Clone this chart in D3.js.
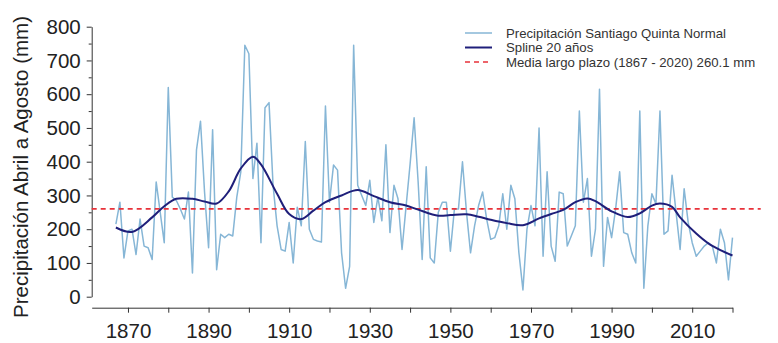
<!DOCTYPE html>
<html>
<head>
<meta charset="utf-8">
<script src="https://cdn.jsdelivr.net/npm/d3@7"></script>
<style>
  html, body { margin: 0; padding: 0; background: #fff; }
  svg { display: block; font-family: "Liberation Sans", Arial, Helvetica, sans-serif; }
</style>
</head>
<body>
<svg id="chart" width="778" height="343"></svg>
<script>
// Precipitación abril–agosto, Santiago Quinta Normal (mm), 1867–2020
const firstYear = 1867;
const precip = [
  215, 280, 115, 195, 200, 125, 230, 150, 145, 110,   // 1867–1876
  340, 250, 160, 620, 295, 285, 260, 230, 310,  70,   // 1877–1886
  435, 520, 310, 145, 495,  80, 185, 175, 185, 180,   // 1887–1896
  295, 370, 745, 720, 350, 455, 160, 560, 575, 330,   // 1897–1906
  210, 140, 135, 220, 100, 265, 210, 460, 200, 170,   // 1907–1916
  165, 162, 565, 280, 390, 375, 130,  25,  90, 745,   // 1917–1926
  330, 300, 270, 345, 220, 295, 225, 450, 190, 330,   // 1927–1936
  290, 140, 267, 393, 530, 340, 110, 385, 115, 100,   // 1937–1946
  250, 280, 280, 135, 260, 260, 400, 250, 130, 210,   // 1947–1956
  270, 310, 230, 170, 175, 210, 305, 200, 330, 290,   // 1957–1966
  130,  20, 200, 270, 210, 500, 120, 370, 150, 105,   // 1967–1976
  310, 305, 150, 180, 210, 550, 280, 350, 120, 200,   // 1977–1986
  615,  90, 235, 175, 260, 370, 190, 185, 130, 100,   // 1987–1996
  550,  25, 210, 305, 275, 550, 185, 195, 360, 250,   // 1997–2006
  140, 320, 220, 160, 120, 135, 150, 160, 150, 100,   // 2007–2016
  200, 160,  50, 175                                  // 2017–2020
];
const years = precip.map((_, i) => firstYear + i);

// Suavizado spline de 20 años
const splineYears  = [1867, 1871, 1876, 1879, 1882, 1886, 1889, 1892, 1895, 1898, 1901, 1903, 1907, 1910, 1913, 1916, 1919, 1923, 1927, 1931, 1935, 1939, 1942, 1947, 1950, 1954, 1957, 1960, 1964, 1968, 1972, 1975, 1978, 1981, 1984, 1986, 1990, 1994, 1997, 2000, 2002, 2005, 2007, 2011, 2014, 2017, 2020];
const splineValues = [ 205,  192,  235,  268,  290,  290,  282,  276,  312,  380,  415,  392,  305,  245,  230,  255,  280,  300,  316,  298,  280,  270,  258,  240,  242,  244,  237,  228,  218,  212,  232,  245,  257,  280,  291,  283,  253,  236,  247,  270,  276,  266,  235,  187,  158,  138,  122];

// Media de largo plazo
const meanValue = 260.1;
const meanSpan = [1861, 2027];

// Ejes
const xDomain = [1861, 2020];
const yDomain = [0, 800];
const xTicks = d3.range(1870, 2021, 10);
const xLabels = [1870, 1890, 1910, 1930, 1950, 1970, 1990, 2010];
const yMinorTicks = d3.range(50, 800, 100);
const yMajorTicks = [0, 100, 200, 300, 400, 500, 600, 700, 800];
const yTitle = "Precipitación Abril a Agosto (mm)";

const legendLabels = [
  "Precipitación Santiago Quinta Normal",
  "Spline 20 años",
  "Media largo plazo (1867 - 2020) 260.1 mm"
];

const colors = { precip: "#86b6d6", spline: "#1f1f7a", mean: "#e8323a", axis: "#333", text: "#222" };

const svg = d3.select("#chart");

const x = d3.scaleLinear().domain(xDomain).range([91.7, 732.5]);
const y = d3.scaleLinear().domain(yDomain).range([296.7, 26.7]);

// Eje Y: marcas menores y mayores
svg.append("g")
  .attr("transform", "translate(91.7,0)")
  .call(d3.axisLeft(y).tickValues(yMinorTicks).tickSize(3).tickSizeOuter(0).tickFormat(""))
  .call(g => g.select(".domain").remove())
  .call(g => g.selectAll("line").attr("stroke", colors.axis));

svg.append("g")
  .attr("transform", "translate(91.7,0)")
  .call(d3.axisLeft(y).tickValues(yMajorTicks).tickSize(5).tickSizeOuter(0).tickPadding(6))
  .call(g => g.select(".domain").attr("stroke", colors.axis))
  .call(g => g.selectAll("line").attr("stroke", colors.axis))
  .call(g => g.selectAll("text")
      .attr("fill", colors.text)
      .style("font-size", "20.5px")
      .style("font-family", "'Liberation Sans', Arial, sans-serif"));

// Eje X
svg.append("g")
  .attr("transform", "translate(0,307.7)")
  .call(d3.axisBottom(x).tickValues(xTicks).tickSize(5).tickSizeOuter(0).tickPadding(11)
      .tickFormat(d => xLabels.includes(d) ? String(d) : ""))
  .call(g => g.select(".domain").attr("stroke", colors.axis))
  .call(g => g.selectAll("line").attr("stroke", colors.axis))
  .call(g => g.selectAll("text")
      .attr("fill", colors.text)
      .style("font-size", "20.5px")
      .style("font-family", "'Liberation Sans', Arial, sans-serif"));

// Título del eje Y
svg.append("text")
  .attr("transform", "translate(28,167) rotate(-90)")
  .attr("text-anchor", "middle")
  .attr("fill", colors.text)
  .style("font-size", "20.5px")
  .text(yTitle);

// Serie anual
svg.append("path")
  .datum(years.map((yr, i) => [yr, precip[i]]))
  .attr("fill", "none")
  .attr("stroke", colors.precip)
  .attr("stroke-width", 1.5)
  .attr("stroke-linejoin", "round")
  .attr("d", d3.line().x(d => x(d[0])).y(d => y(d[1])));

// Media de largo plazo
svg.append("line")
  .attr("x1", x(meanSpan[0])).attr("x2", x(meanSpan[1]))
  .attr("y1", y(meanValue)).attr("y2", y(meanValue))
  .attr("stroke", colors.mean)
  .attr("stroke-width", 1.6)
  .attr("stroke-dasharray", "5,4");

// Spline
svg.append("path")
  .datum(splineYears.map((yr, i) => [yr, splineValues[i]]))
  .attr("fill", "none")
  .attr("stroke", colors.spline)
  .attr("stroke-width", 2)
  .attr("d", d3.line().curve(d3.curveCatmullRom.alpha(0.5)).x(d => x(d[0])).y(d => y(d[1])));

// Leyenda
const legend = svg.append("g").attr("transform", "translate(465,33)");
const legendStyles = [
  { stroke: colors.precip, width: 1.5, dash: null },
  { stroke: colors.spline, width: 2, dash: null },
  { stroke: colors.mean, width: 1.6, dash: "5,4" }
];
legendLabels.forEach((label, i) => {
  const row = legend.append("g").attr("transform", `translate(0,${i * 14.5})`);
  row.append("line")
    .attr("x1", 0).attr("x2", 27)
    .attr("stroke", legendStyles[i].stroke)
    .attr("stroke-width", legendStyles[i].width)
    .attr("stroke-dasharray", legendStyles[i].dash);
  row.append("text")
    .attr("x", 41).attr("dy", "0.35em")
    .attr("fill", "#333")
    .style("font-size", "13.2px")
    .text(label);
});
</script>
</body>
</html>
